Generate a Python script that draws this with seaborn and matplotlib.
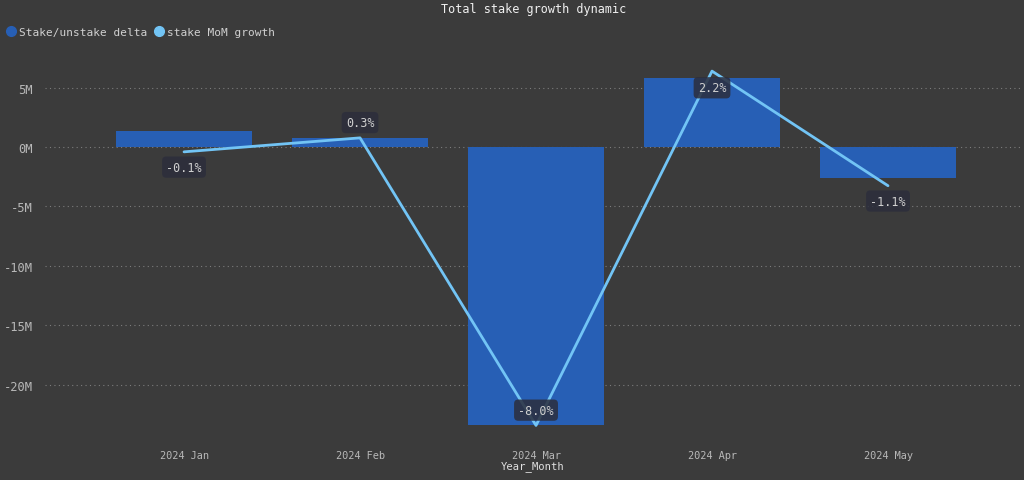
import numpy as np
import pandas as pd
import matplotlib
matplotlib.use('Agg')
import matplotlib.pyplot as plt
import matplotlib.ticker as mticker
from matplotlib.lines import Line2D
import seaborn as sns

# datos
meses = ['2024 Jan', '2024 Feb', '2024 Mar', '2024 Apr', '2024 May']
delta = [1.35e6, 0.76e6, -23.4e6, 5.8e6, -2.6e6]
crecimiento = [-0.14, 0.26, -7.97, 2.17, -1.11]

fondo = '#3b3b3b'
color_barra = '#275fb5'
color_linea = '#72c4f5'

sns.set_theme(style='dark')
plt.rcParams['font.family'] = ['DejaVu Sans Mono', 'DejaVu Sans']
plt.rcParams['axes.unicode_minus'] = False

df = pd.DataFrame({'Year_Month': meses, 'delta': delta, 'mom': crecimiento})

fig = plt.figure(figsize=(10.24, 4.81), dpi=100, facecolor=fondo)
ax = fig.add_axes([45/1024, 1 - 432/481, 975/1024, 372/481])
ax.set_facecolor(fondo)

sns.barplot(data=df, x='Year_Month', y='delta', color=color_barra,
            width=0.77, saturation=1, linewidth=0, ax=ax)

y0, y1 = -23.9e6, 7.4e6
ax.set_ylim(y0, y1)
ax.set_xlim(-0.79, 4.75)
ax.set_yticks(np.arange(-20e6, 5e6 + 1, 5e6))
ax.yaxis.set_major_formatter(mticker.FuncFormatter(lambda v, p: f'{v/1e6:.0f}M'))
ax.grid(axis='y', color='#7c7c7c', linestyle=(0, (1, 3)), linewidth=0.8)
ax.set_axisbelow(True)
for s in ax.spines.values():
    s.set_visible(False)
ax.tick_params(axis='x', length=0, colors='#b8b8b8', labelsize=7.4, pad=14)
ax.tick_params(axis='y', length=0, colors='#b8b8b8', labelsize=8.7, pad=9)
ax.set_xlabel('Year_Month', color='#e0e0e0', fontsize=7.6, labelpad=0)
ax.set_ylabel('')

# eje secundario con mismo cero
escala = 2.94e6
ax2 = ax.twinx()
ax2.set_ylim(y0 / escala, y1 / escala)
sns.lineplot(data=df, x='Year_Month', y='mom', color=color_linea,
             linewidth=2, ax=ax2, legend=False)
ax2.set_yticks([])
ax2.set_ylabel('')
for s in ax2.spines.values():
    s.set_visible(False)

desplazamiento = [-11, 11, 11, -12, -11]
for i, (v, d) in enumerate(zip(crecimiento, desplazamiento)):
    ax2.annotate(f'{v:.1f}%', (i, v), xytext=(0, d), textcoords='offset points',
                 ha='center', va='center', color='#d0d0d0', fontsize=8.5,
                 bbox=dict(boxstyle='round,pad=0.35', fc='#2c2e3c', ec='none', alpha=0.85))

fig.suptitle('Total stake growth dynamic', x=0.521, y=0.993, color='#f0f0f0', fontsize=8.5)

handles = [Line2D([], [], marker='o', linestyle='', color=color_barra, markersize=7),
           Line2D([], [], marker='o', linestyle='', color=color_linea, markersize=7)]
fig.legend(handles, ['Stake/unstake delta', 'stake MoM growth'], loc='upper left',
           bbox_to_anchor=(-0.01, 0.962), ncol=2, frameon=False, fontsize=8,
           handletextpad=-0.3, columnspacing=0.1, labelcolor='#d0d0d0')

plt.savefig('out.png', dpi=100, facecolor=fondo)
